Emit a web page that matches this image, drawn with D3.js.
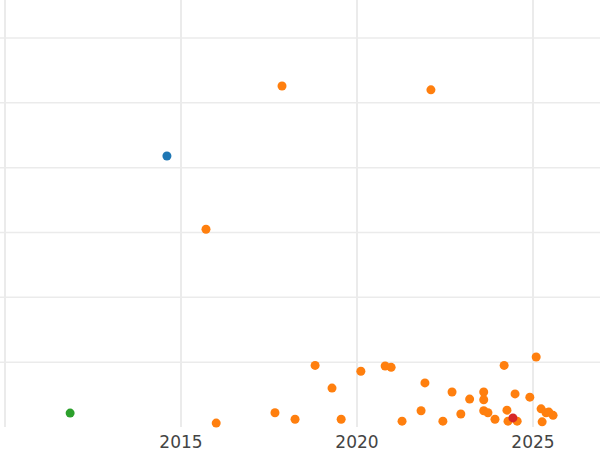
<!DOCTYPE html>
<html><head><meta charset="utf-8">
<script src="https://cdn.jsdelivr.net/npm/d3@7"></script>
<style>body{margin:0;background:#fff}</style></head>
<body><svg id="c" width="600" height="450"></svg>
<script>
const xTicks=[2010,2015,2020,2025];
const yTicks=[0,1,2,3,4,5,6];
const colors=["#1f77b4","#ff7f0e","#2ca02c","#d62728"];
const blueX=[2014.6], blueY=[4.18];
const greenX=[2011.85], greenY=[0.215];
const redX=[2024.43], redY=[0.14];
const orangeX=[2017.87,2022.1,2015.71,2018.81,2019.29,2020.11,2020.8,2020.97,2021.93,2024.18,2025.09,2016.0,2017.67,2018.24,2019.55,2021.28,2021.82,2022.44,2022.7,2022.95,2023.2,2023.6,2023.6,2023.6,2023.72,2023.92,2024.26,2024.29,2024.49,2024.55,2024.91,2025.23,2025.26,2025.37,2025.45,2025.57];
const orangeY=[5.26,5.2,3.05,0.95,0.6,0.86,0.94,0.92,0.68,0.95,1.08,0.06,0.22,0.12,0.12,0.09,0.25,0.09,0.54,0.2,0.43,0.54,0.42,0.25,0.22,0.12,0.26,0.09,0.51,0.09,0.46,0.28,0.08,0.22,0.23,0.18];
const svg=d3.select("#c");
const x=d3.scaleLinear().domain([2010,2010+595/35.2]).range([5,600]);
const y=d3.scaleLinear().domain([0,6]).range([427,38]);
const g=svg.append("g");
g.selectAll(".h").data(yTicks.slice(1)).join("line").attr("x1",0).attr("x2",600)
 .attr("y1",d=>y(d)).attr("y2",d=>y(d)).attr("stroke","#ebebeb").attr("stroke-width",1.5);
g.selectAll(".v").data(xTicks).join("line").attr("x1",d=>x(d)).attr("x2",d=>x(d))
 .attr("y1",0).attr("y2",427).attr("stroke","#ebebeb").attr("stroke-width",2);
g.selectAll(".t").data(xTicks.slice(1)).join("text").attr("x",d=>x(d)).attr("y",448)
 .attr("text-anchor","middle").attr("font-family","DejaVu Sans").attr("font-size",17).attr("fill","#444").text(d=>d);
const series=[[blueX,blueY,colors[0]],[orangeX,orangeY,colors[1]],[greenX,greenY,colors[2]],[redX,redY,colors[3]]];
series.forEach(([xs,ys,c])=>{
 svg.append("g").selectAll("circle").data(xs.map((v,i)=>[v,ys[i]])).join("circle")
  .attr("cx",d=>x(d[0])).attr("cy",d=>y(d[1])).attr("r",4.5).attr("fill",c);
});
</script></body></html>
